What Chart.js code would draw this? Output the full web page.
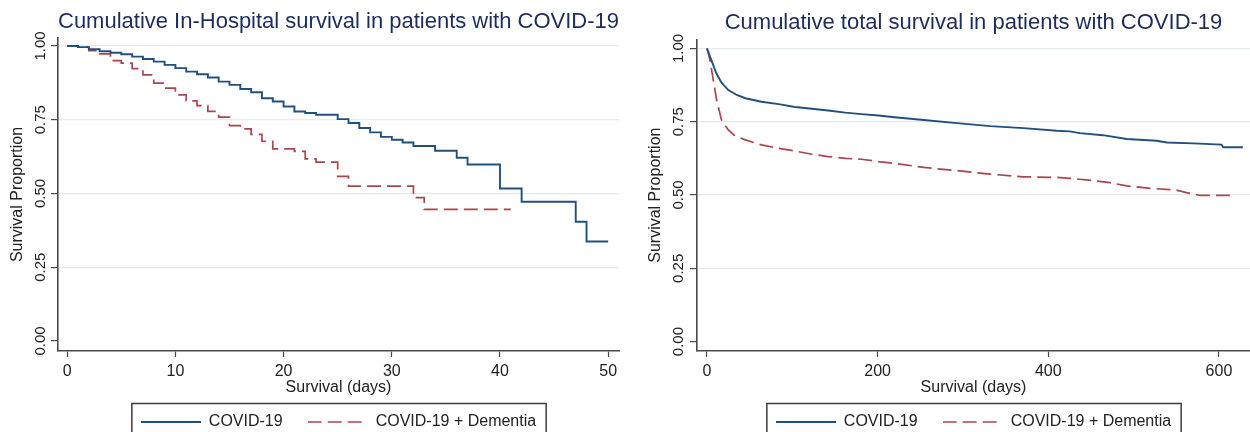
<!DOCTYPE html>
<html>
<head>
<meta charset="utf-8">
<script src="https://cdn.jsdelivr.net/npm/chart.js@4"></script>
<style>
  body { margin: 0; background: #fff; }
  .row { display: flex; width: 1250px; height: 432px; }
  .cell { position: relative; width: 625px; height: 432px; }
</style>
</head>
<body>
<div class="row">
  <div class="cell"><canvas id="hospChart" width="625" height="432"></canvas></div>
  <div class="cell"><canvas id="totalChart" width="625" height="432"></canvas></div>
</div>
<script>
// In-hospital survival (Kaplan-Meier steps), days vs proportion
const hospDaysCovid = [0, 1, 2, 3, 4, 5, 6, 7, 8, 9, 10, 11, 12, 13, 14, 15, 16, 17, 18, 19, 20, 21, 22, 23, 25, 26, 27, 28, 29, 30, 31, 32, 34, 36, 37, 40, 42, 47, 48, 50];
const hospSurvCovid = [1.0, 0.996, 0.989, 0.982, 0.977, 0.972, 0.964, 0.956, 0.947, 0.936, 0.925, 0.913, 0.904, 0.893, 0.879, 0.868, 0.854, 0.843, 0.823, 0.812, 0.795, 0.778, 0.773, 0.767, 0.752, 0.739, 0.722, 0.707, 0.692, 0.682, 0.673, 0.661, 0.645, 0.621, 0.598, 0.517, 0.472, 0.404, 0.337, 0.337];
const hospDaysDem = [0, 1, 2, 3, 4, 5, 6, 7, 8, 9, 10, 11, 12, 13, 14, 15, 16, 17, 18, 19, 21, 22, 23, 25, 26, 32, 33, 41];
const hospSurvDem = [1.0, 0.996, 0.984, 0.973, 0.950, 0.942, 0.923, 0.902, 0.874, 0.857, 0.834, 0.814, 0.798, 0.778, 0.759, 0.730, 0.719, 0.700, 0.677, 0.651, 0.643, 0.617, 0.606, 0.558, 0.525, 0.486, 0.446, 0.446];

// Total survival
const totDaysCovid = [0, 5, 11, 17, 25, 35, 45, 64, 84, 103, 123, 142, 162, 181, 201, 220, 254, 293, 332, 371, 410, 425, 437, 464, 492, 527, 539, 570, 603, 605, 628];
const totSurvCovid = [1.0, 0.961, 0.915, 0.883, 0.858, 0.841, 0.830, 0.818, 0.810, 0.800, 0.794, 0.788, 0.781, 0.776, 0.771, 0.765, 0.756, 0.745, 0.735, 0.728, 0.719, 0.717, 0.711, 0.704, 0.691, 0.685, 0.679, 0.676, 0.672, 0.663, 0.663];
const totDaysDem = [0, 3.5, 7.4, 11.3, 17, 25, 33, 45, 64, 84, 103, 123, 142, 162, 181, 201, 220, 254, 293, 332, 371, 410, 425, 453, 472, 492, 523, 550, 562, 578, 614];
const totSurvDem = [1.0, 0.961, 0.892, 0.824, 0.756, 0.722, 0.701, 0.688, 0.671, 0.659, 0.650, 0.639, 0.631, 0.625, 0.622, 0.614, 0.608, 0.594, 0.583, 0.571, 0.562, 0.560, 0.557, 0.549, 0.542, 0.531, 0.522, 0.517, 0.508, 0.499, 0.499];

const seriesNames = ['COVID-19', 'COVID-19 + Dementia'];
const hospXTicks = [0, 10, 20, 30, 40, 50];
const totXTicks = [0, 200, 400, 600];
const yTicks = [0, 0.25, 0.5, 0.75, 1];

const FONT = '"Liberation Sans", Arial, sans-serif';
const BLUE = '#22507e';
const RED = '#aa444d';
const AXIS = '#4a4a4a';
const DASH = [14, 6];

const toPts = (xs, ys) => xs.map((x, i) => ({ x: x, y: ys[i] }));

// little line samples for the legend (the point style path ignores borderDash)
function lineSample(color, width, dash) {
  const cv = document.createElement('canvas');
  cv.width = 60; cv.height = 4;
  const c = cv.getContext('2d');
  c.strokeStyle = color;
  c.lineWidth = width;
  c.setLineDash(dash);
  c.beginPath();
  c.moveTo(0, 2);
  c.lineTo(60, 2);
  c.stroke();
  return cv;
}
const blueSample = lineSample(BLUE, 1.9, []);
const redSample = lineSample(RED, 1.7, DASH);

// draws the frame around the legend, like the Stata box
const legendFrame = {
  id: 'legendFrame',
  afterDraw(chart) {
    const boxes = chart.legend.legendHitBoxes;
    if (!boxes || !boxes.length) return;
    const first = boxes[0], last = boxes[boxes.length - 1];
    const c = chart.ctx;
    const midY = first.top + first.height / 2;
    c.save();
    c.strokeStyle = '#3c3c3c';
    c.lineWidth = 1.5;
    c.strokeRect(first.left - 9, midY - 18.5, last.left + last.width - first.left + 19, 40);
    c.restore();
  }
};

function makeChart(id, o) {
  return new Chart(document.getElementById(id).getContext('2d'), {
    type: 'line',
    data: {
      datasets: [
        { label: seriesNames[0], data: toPts(o.xa, o.ya), borderColor: BLUE, borderWidth: 1.9,
          stepped: o.stepped, pointRadius: 0, tension: 0, pointStyle: blueSample },
        { label: seriesNames[1], data: toPts(o.xb, o.yb), borderColor: RED, borderWidth: 1.7,
          borderDash: DASH, stepped: o.stepped, pointRadius: 0, tension: 0, pointStyle: redSample }
      ]
    },
    options: {
      responsive: false,
      animation: false,
      layout: { padding: { left: 0, right: o.padRight, top: 0, bottom: -8 } },
      plugins: {
        title: {
          display: true, text: o.title, fullSize: false, color: '#1c2d5b',
          font: { family: FONT, size: 22, weight: 'normal' },
          padding: { top: o.titleTop, bottom: o.areaTop - o.titleTop - 26.4 }
        },
        legend: {
          position: 'bottom', fullSize: false,
          labels: {
            usePointStyle: true, pointStyleWidth: 60,
            padding: 25, color: '#222', font: { family: FONT, size: 16 }
          }
        },
        tooltip: { enabled: false }
      },
      scales: {
        x: {
          type: 'linear', min: o.xmin, max: o.xmax,
          afterBuildTicks: s => { s.ticks = o.xticks.map(v => ({ value: v })); },
          afterFit: s => { s.height = 38; },
          grid: { drawOnChartArea: false, tickLength: 6, tickColor: AXIS, tickWidth: 1.2 },
          border: { color: AXIS, width: 1.6 },
          ticks: { color: '#222', font: { family: FONT, size: 16 }, padding: 5, maxRotation: 0, autoSkip: false },
          title: { display: true, text: 'Survival (days)', color: '#222',
                   font: { family: FONT, size: 16 }, padding: { top: 0, bottom: -8.6 } }
        },
        y: {
          type: 'linear', min: o.ymin, max: o.ymax,
          afterBuildTicks: s => { s.ticks = yTicks.map(v => ({ value: v })); },
          afterFit: s => { s.width = o.yWidth; },
          grid: {
            color: c => (c.tick && c.tick.value === 0 ? 'rgba(0,0,0,0)' : '#e3edf1'),
            lineWidth: 1.2, tickLength: 7, tickColor: AXIS, tickWidth: 1.2
          },
          border: { color: AXIS, width: 1.6 },
          ticks: {
            color: '#222', font: { family: FONT, size: 15 }, minRotation: 90, maxRotation: 90,
            crossAlign: 'center', padding: o.yTickPad, autoSkip: false,
            callback: v => Number(v).toFixed(2)
          },
          title: { display: true, text: 'Survival Proportion', color: '#222',
                   font: { family: FONT, size: 16 }, padding: { top: o.yTitlePad, bottom: 0 } }
        }
      }
    },
    plugins: [legendFrame]
  });
}

makeChart('hospChart', {
  title: 'Cumulative In-Hospital survival in patients with COVID-19',
  xa: hospDaysCovid, ya: hospSurvCovid, xb: hospDaysDem, yb: hospSurvDem,
  stepped: 'before', xmin: -0.85, xmax: 51.0, ymin: -0.034, ymax: 1.027,
  xticks: hospXTicks, padRight: 6, yWidth: 58, yTickPad: -4.6, yTitlePad: 8,
  titleTop: 9, areaTop: 38
});

makeChart('totalChart', {
  title: 'Cumulative total survival in patients with COVID-19',
  xa: totDaysCovid, ya: totSurvCovid, xb: totDaysDem, yb: totSurvDem,
  stepped: false, xmin: -11.7, xmax: 636.4, ymin: -0.032, ymax: 1.031,
  xticks: totXTicks, padRight: 0, yWidth: 72, yTickPad: -3.6, yTitlePad: 21.4,
  titleTop: 10, areaTop: 39.3
});
</script>
</body>
</html>
